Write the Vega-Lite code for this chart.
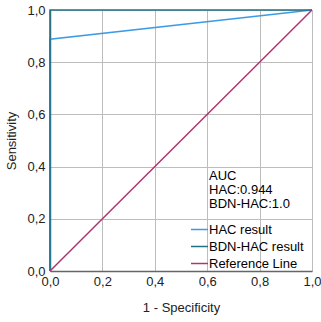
{
  "$schema": "https://vega.github.io/schema/vega-lite/v6.json",
  "width": 262,
  "height": 261,
  "autosize": "none",
  "padding": {"left": 50, "top": 10, "right": 9, "bottom": 51},
  "config": {
    "font": "Liberation Sans",
    "view": {"stroke": null},
    "axis": {
      "labelFont": "Liberation Sans",
      "titleFont": "Liberation Sans",
      "labelFontSize": 13,
      "titleFontSize": 13,
      "titleFontWeight": "normal",
      "labelColor": "#222",
      "titleColor": "#222",
      "gridColor": "#bdbdbd",
      "gridWidth": 1,
      "ticks": false,
      "labelFlush": false
    }
  },
  "data": {
    "values": [
      {"series": "HAC result", "step": 0, "fpr": 0, "tpr": 0},
      {"series": "HAC result", "step": 1, "fpr": 0, "tpr": 0.888},
      {"series": "HAC result", "step": 2, "fpr": 1, "tpr": 1},
      {"series": "BDN-HAC result", "step": 0, "fpr": 0, "tpr": 0},
      {"series": "BDN-HAC result", "step": 1, "fpr": 0, "tpr": 1},
      {"series": "BDN-HAC result", "step": 2, "fpr": 1, "tpr": 1},
      {"series": "Reference Line", "step": 0, "fpr": 0, "tpr": 0},
      {"series": "Reference Line", "step": 1, "fpr": 1, "tpr": 1}
    ]
  },
  "mark": {"type": "line", "strokeWidth": 1.5, "clip": false},
  "encoding": {
    "x": {
      "field": "fpr",
      "type": "quantitative",
      "title": "1 - Specificity",
      "scale": {"domain": [0, 1], "nice": false, "zero": true},
      "axis": {
        "values": [0, 0.2, 0.4, 0.6, 0.8, 1],
        "format": ".1f",
        "labelExpr": "replace(datum.label, '.', ',')",
        "labelPadding": 4,
        "titlePadding": 13,
        "domainColor": "#666",
        "domainWidth": 1.5
      }
    },
    "y": {
      "field": "tpr",
      "type": "quantitative",
      "title": "Sensitivity",
      "scale": {"domain": [0, 1], "nice": false, "zero": true},
      "axis": {
        "values": [0, 0.2, 0.4, 0.6, 0.8, 1],
        "format": ".1f",
        "labelExpr": "replace(datum.label, '.', ',')",
        "labelPadding": 5,
        "titlePadding": 8,
        "domainColor": "#666",
        "domainWidth": 1.5
      }
    },
    "order": {"field": "step", "type": "quantitative"},
    "color": {
      "field": "series",
      "type": "nominal",
      "sort": ["HAC result", "BDN-HAC result", "Reference Line"],
      "scale": {
        "domain": ["HAC result", "BDN-HAC result", "Reference Line"],
        "range": ["#3d9be6", "#1f7085", "#b03472"]
      },
      "legend": {
        "title": ["AUC", "HAC:0.944", "BDN-HAC:1.0"],
        "orient": "none",
        "legendX": 159,
        "legendY": 160,
        "titleFont": "Liberation Sans",
        "titleFontSize": 13,
        "titleFontWeight": "normal",
        "titleColor": "#000",
        "titleLineHeight": 14,
        "titlePadding": 9,
        "titleAnchor": "start",
        "labelFont": "Liberation Sans",
        "labelFontSize": 13,
        "labelColor": "#000",
        "symbolType": "stroke",
        "symbolSize": 289,
        "symbolStrokeWidth": 1.5,
        "symbolOffset": -19,
        "labelOffset": 0,
        "rowPadding": -0.5,
        "padding": 0
      }
    }
  }
}
